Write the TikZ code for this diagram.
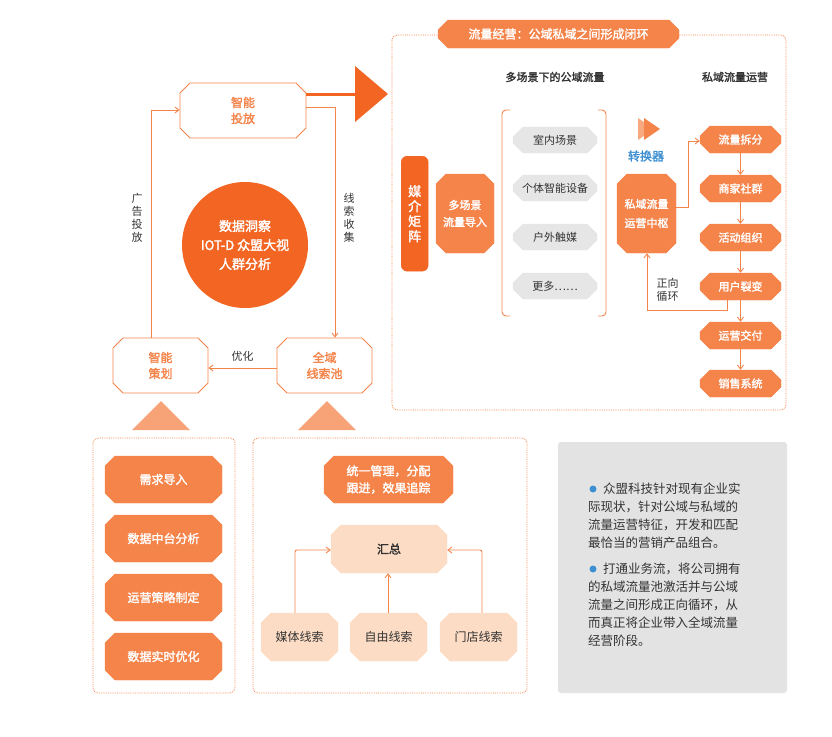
\documentclass[tikz,border=0pt]{standalone}
\usepackage{fontspec}
\setmainfont{Noto Sans CJK SC}[AutoFakeBold=2]
\usetikzlibrary{shapes.misc,arrows.meta}
\definecolor{org}{HTML}{F5844A}
\definecolor{dorg}{HTML}{F26522}
\definecolor{peach}{HTML}{FCDCC4}
\definecolor{gry}{HTML}{E6E6E6}
\definecolor{gbox}{HTML}{E3E3E3}
\definecolor{blu}{HTML}{3D8FD1}
\begin{document}
\begin{tikzpicture}[x=1pt,y=-1pt,
  box/.style={chamfered rectangle,chamfered rectangle xsep=5pt,chamfered rectangle ysep=5pt,draw=#1,inner sep=0pt,anchor=center,align=center},
  wbox/.style={box=org,fill=white,line width=0.8pt,text=org,font=\bfseries\fontsize{12}{16}\selectfont},
  obox/.style={box=org,fill=org,text=white,font=\bfseries\fontsize{12}{16}\selectfont},
  pbox/.style={box=peach,fill=peach,text=black!80,font=\fontsize{12}{15}\selectfont},
  gbx/.style={box=gry,fill=gry,text=black!80,font=\fontsize{11}{14}\selectfont},
  dot/.style={draw=org,densely dotted,line width=0.8pt,rounded corners=5pt},
  ar/.style={draw=org,line width=0.9pt,-{Straight Barb[length=4pt,width=6pt]}},
  lbl/.style={font=\fontsize{11}{13}\selectfont,text=black!80,align=center}]
\useasboundingbox (0,0) rectangle (832,736);
% ---- left cycle
\node[wbox,minimum width=126pt,minimum height=55pt] (tf) at (243,110.5) {智能\\投放};
\node[wbox,minimum width=95pt,minimum height=55pt] (cx) at (324.5,365.5) {全域\\线索池};
\node[wbox,minimum width=95pt,minimum height=55pt] (ch) at (160.5,365.5) {智能\\策划};
\node[circle,fill=dorg,minimum size=126pt,text=white,align=center,font=\bfseries\fontsize{13}{19}\selectfont] (c) at (245,245) {数据洞察\\IOT-D 众盟大视\\人群分析};
\draw[ar] (tf.east|-0,107) -- (335,107) -- (cx.north-|335,0);
\draw[ar] (cx.west|-0,368) -- (ch.east|-0,368) node[lbl,midway,above=3pt] {优化};
\draw[ar] (ch.north-|151,0) -- (151,110) -- (tf.west|-0,110);
\node[lbl] (l1) at (137,218) {广\\告\\投\\放};
\node[lbl] (l2) at (349,218) {线\\索\\收\\集};
\coordinate (ba) at (306,94);
\coordinate (bb) at (357,94);
\draw[dorg,line width=3pt] (ba) -- (bb);
\fill[dorg] (355,66) -- (388,94) -- (355,122) -- cycle;
% ---- right frame
\draw[dot] (392,35) rectangle (786,410);
\node[box=org,fill=org,minimum width=241pt,minimum height=28pt,text=white,font=\bfseries\fontsize{12}{14}\selectfont] (tt) at (558.5,34) {流量经营：公域私域之间形成闭环};
\node[lbl,font=\bfseries\fontsize{11}{13}\selectfont] (h1) at (555,77) {多场景下的公域流量};
\node[lbl,font=\bfseries\fontsize{11}{13}\selectfont] (h2) at (735,77) {私域流量运营};
\node[draw=dorg,fill=dorg,rounded corners=6pt,anchor=north west,align=center,inner sep=0pt,minimum width=27pt,minimum height=115pt,text=white,font=\bfseries\fontsize{13}{15}\selectfont] (mj) at (401,156) {媒\\介\\矩\\阵};
\node[obox,minimum width=58pt,minimum height=79pt,font=\bfseries\fontsize{11}{17}\selectfont] (dc) at (465,213.5) {多场景\\流量导入};
\draw[org,line width=0.9pt,rounded corners=4pt] (510,110) -- (502,110) -- (502,316) -- (510,316);
\draw[org,line width=0.9pt,rounded corners=4pt] (598,110) -- (606,110) -- (606,316) -- (598,316);
\node[gbx,minimum width=84pt,minimum height=26pt] (g1) at (555,140) {室内场景};
\node[gbx,minimum width=84pt,minimum height=26pt] (g2) at (555,188) {个体智能设备};
\node[gbx,minimum width=84pt,minimum height=26pt] (g3) at (555,237) {户外触媒};
\node[gbx,minimum width=84pt,minimum height=26pt] (g4) at (555,286) {更多……};
\fill[org!70] (638,118) -- (654,129) -- (638,140) -- cycle;
\fill[org] (644,118) -- (660,129) -- (644,140) -- cycle;
\node[font=\bfseries\fontsize{12}{14}\selectfont,text=blu] (zh) at (646,156) {转换器};
\node[obox,minimum width=59pt,minimum height=79pt,font=\bfseries\fontsize{11}{19}\selectfont] (sy) at (646.5,213.5) {私域流量\\运营中枢};
\foreach \n/\t/\y in {r1/流量拆分/139.5,r2/商家社群/188.5,r3/活动组织/237.5,r4/用户裂变/286.5,r5/运营交付/335.5,r6/销售系统/383.5}
  \node[obox,minimum width=81pt,minimum height=27pt,font=\bfseries\fontsize{11}{13}\selectfont] (\n) at (740.5,\y) {\t};
\foreach \a/\b in {r1/r2,r2/r3,r3/r4,r4/r5,r5/r6} \draw[ar] (\a) -- (\b);
\draw[ar] (sy.east|-0,207) -- (688,207) -- (688,141) -- (r1.west|-0,141);
\draw[ar] (r4.south-|727,0) -- (727,310) -- (647,310) -- (sy.south-|647,0);
\node[lbl,anchor=west] (zx) at (653,290) {正向\\循环};
% ---- bottom
\fill[org!75] (132,430) -- (161,401) -- (190,430) -- cycle;
\fill[org!75] (298,430) -- (327,401) -- (356,430) -- cycle;
\draw[dot] (93,438) rectangle (235,693);
\foreach \n/\t/\y in {b1/需求导入/479.5,b2/数据中台分析/538.5,b3/运营策略制定/597.5,b4/数据实时优化/656.5}
  \node[obox,minimum width=117pt,minimum height=47pt,font=\bfseries\fontsize{12}{14}\selectfont] (\n) at (163.5,\y) {\t};
\draw[dot] (253,438) rectangle (527,693);
\node[obox,minimum width=129pt,minimum height=47pt,align=left,font=\bfseries\fontsize{12}{17}\selectfont] (ty) at (388.5,479.5) {统一管理，分配\\跟进，效果追踪};
\node[pbox,minimum width=116pt,minimum height=48pt,font=\bfseries\fontsize{12}{14}\selectfont] (hz) at (389,549) {汇总};
\node[pbox,minimum width=77pt,minimum height=48pt] (m1) at (299.5,637) {媒体线索};
\node[pbox,minimum width=77pt,minimum height=48pt] (m2) at (388.5,637) {自由线索};
\node[pbox,minimum width=77pt,minimum height=48pt] (m3) at (478.5,637) {门店线索};
\draw[ar,rounded corners=2pt] (m1.north-|295,0) -- (295,550) -- (hz.west|-0,550);
\draw[ar] (m2.north-|388,0) -- (hz.south-|388,0);
\draw[ar,rounded corners=2pt] (m3.north-|482,0) -- (482,550) -- (hz.east|-0,550);
% gray text box
\fill[gbox,rounded corners=3pt] (558,442) rectangle (787,693);
\fill[blu] (593,489) circle (3.5pt);
\fill[blu] (593,569) circle (3.5pt);
\begin{scope}[every node/.style={anchor=west,font=\fontsize{12.5}{14}\selectfont,text=black!80,inner sep=0pt}]
\node (t1) at (603,489) {众盟科技针对现有企业实};
\node (t2) at (588,507) {际现状，针对公域与私域的};
\node (t3) at (588,525) {流量运营特征，开发和匹配};
\node (t4) at (588,543) {最恰当的营销产品组合。};
\node (t5) at (603,569) {打通业务流，将公司拥有};
\node (t6) at (588,587) {的私域流量池激活并与公域};
\node (t7) at (588,605) {流量之间形成正向循环，从};
\node (t8) at (588,623) {而真正将企业带入全域流量};
\node (t9) at (588,641) {经营阶段。};
\end{scope}
\end{tikzpicture}
\end{document}
